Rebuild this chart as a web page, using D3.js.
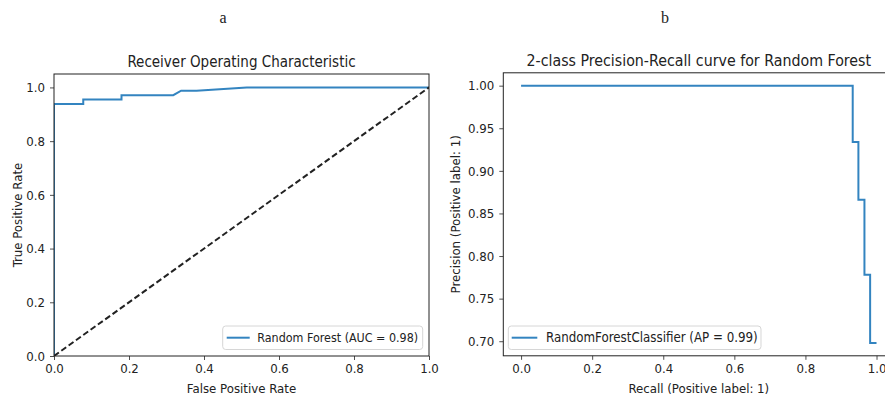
<!DOCTYPE html>
<html>
<head>
<meta charset="utf-8">
<script src="https://cdn.jsdelivr.net/npm/d3@7"></script>
<style>
  body { margin: 0; background: #fff; }
  text { font-family: "DejaVu Sans Condensed", "DejaVu Sans", sans-serif; fill: #222; }
</style>
</head>
<body>
<div id="chart"></div>
<script>
// ROC curve (panel a)
const rocFpr = [0, 0, 0.078, 0.078, 0.18, 0.18, 0.318, 0.339, 0.38, 0.514, 1.0]
const rocTpr = [0, 0.938, 0.938, 0.955, 0.955, 0.971, 0.971, 0.988, 0.988, 1.0, 1.0]
const chanceLine = [0, 1]
// Precision-recall curve (panel b), sklearn order (recall decreasing)
const prRecall = [1.0, 0.982, 0.966, 0.949, 0.933, 0.0]
const prPrecision = [0.698, 0.778, 0.866, 0.934, 1.0, 1.0]

const rocTicks = [0, 0.2, 0.4, 0.6, 0.8, 1.0]
const prYTicks = [0.70, 0.75, 0.80, 0.85, 0.90, 0.95, 1.00]
const prXTicks = [0, 0.2, 0.4, 0.6, 0.8, 1.0]

const BLUE = '#3384c0'
const WIDTH = 885
const HEIGHT = 396
const FONT = 13.1
const SANS = '"DejaVu Sans Condensed", "DejaVu Sans", sans-serif'

const svg = d3.select('#chart').append('svg')
  .attr('width', WIDTH)
  .attr('height', HEIGHT)

// panel letters
svg.append('text').attr('x', 223).attr('y', 23).attr('text-anchor', 'middle')
  .style('font-family', '"Liberation Serif", serif').attr('font-size', '16px').text('a')
svg.append('text').attr('x', 665).attr('y', 23).attr('text-anchor', 'middle')
  .style('font-family', '"Liberation Serif", serif').attr('font-size', '16px').text('b')

function panel(opts) {
  const {id, left, top, w, h, x, y, xTicks, yTicks, xFmt, yFmt} = opts
  const g = svg.append('g').attr('transform', `translate(${left},${top})`)

  g.append('clipPath').attr('id', id)
    .append('rect').attr('width', w).attr('height', h)

  const xAxisG = g.append('g')
    .attr('transform', `translate(0,${h})`)
    .call(d3.axisBottom(x).tickValues(xTicks).tickFormat(d3.format(xFmt)).tickSize(4).tickPadding(4))
  const yAxisG = g.append('g')
    .call(d3.axisLeft(y).tickValues(yTicks).tickFormat(d3.format(yFmt)).tickSize(4).tickPadding(5))

  for (const ax of [xAxisG, yAxisG]) {
    ax.select('.domain').remove()
    ax.selectAll('.tick line').attr('stroke', '#222').attr('stroke-width', 0.8)
    ax.selectAll('.tick text')
      .attr('font-size', FONT + 'px')
      .style('font-family', SANS)
      .attr('fill', '#222')
  }

  const plot = g.append('g').attr('clip-path', `url(#${id})`)
  return {g, plot}
}

// ---------- panel a : ROC ----------
const aLeft = 54, aTop = 74, aW = 375, aH = 282
const ax = d3.scaleLinear().domain([0, 1]).range([0, aW])
const ay = d3.scaleLinear().domain([0, 1.05]).range([aH, 0])
const pa = panel({id: 'clipA', left: aLeft, top: aTop, w: aW, h: aH, x: ax, y: ay,
  xTicks: rocTicks, yTicks: rocTicks, xFmt: '.1f', yFmt: '.1f'})

const rocData = rocFpr.map((f, i) => [f, rocTpr[i]])
pa.plot.append('path')
  .datum(rocData)
  .attr('fill', 'none')
  .attr('stroke', BLUE)
  .attr('stroke-width', 2)
  .attr('d', d3.line().x(d => ax(d[0])).y(d => ay(d[1])))

pa.plot.append('path')
  .datum(chanceLine.map(v => [v, v]))
  .attr('fill', 'none')
  .attr('stroke', '#222')
  .attr('stroke-width', 2)
  .attr('stroke-dasharray', '6,3')
  .attr('d', d3.line().x(d => ax(d[0])).y(d => ay(d[1])))

pa.g.append('rect').attr('width', aW).attr('height', aH)
  .attr('fill', 'none').attr('stroke', '#222').attr('stroke-width', 1)

pa.g.append('text').attr('x', aW / 2).attr('y', -7).attr('text-anchor', 'middle')
  .attr('font-size', '15px').text('Receiver Operating Characteristic')
pa.g.append('text').attr('x', aW / 2).attr('y', aH + 37).attr('text-anchor', 'middle')
  .attr('font-size', FONT + 'px').text('False Positive Rate')
pa.g.append('text')
  .attr('transform', `translate(${-32},${aH / 2}) rotate(-90)`)
  .attr('text-anchor', 'middle')
  .attr('font-size', FONT + 'px').text('True Positive Rate')

// legend a
const la = pa.g.append('g').attr('transform', `translate(${222.7 - aLeft},${326 - aTop})`)
la.append('rect').attr('width', 200).attr('height', 23.5).attr('rx', 3)
  .attr('fill', 'rgba(255,255,255,0.8)').attr('stroke', '#d6d6d6')
la.append('line').attr('x1', 4).attr('x2', 27).attr('y1', 11.7).attr('y2', 11.7)
  .attr('stroke', BLUE).attr('stroke-width', 2)
la.append('text').attr('x', 34.6).attr('y', 11.7).attr('dy', '0.35em')
  .attr('font-size', '12.4px').text('Random Forest (AUC = 0.98)')

// ---------- panel b : Precision-Recall ----------
const bLeft = 503.3, bTop = 72.8, bW = 391, bH = 283
const bx = d3.scaleLinear().domain([-0.05, 1.05]).range([0, bW])
const by = d3.scaleLinear().domain([0.6829, 1.0151]).range([bH, 0])
const pb = panel({id: 'clipB', left: bLeft, top: bTop, w: bW, h: bH, x: bx, y: by,
  xTicks: prXTicks, yTicks: prYTicks, xFmt: '.1f', yFmt: '.2f'})

const prData = prRecall.map((r, i) => [r, prPrecision[i]])
pb.plot.append('path')
  .datum(prData)
  .attr('fill', 'none')
  .attr('stroke', BLUE)
  .attr('stroke-width', 2)
  .attr('d', d3.line().curve(d3.curveStepAfter).x(d => bx(d[0])).y(d => by(d[1])))

pb.g.append('rect').attr('width', bW).attr('height', bH)
  .attr('fill', 'none').attr('stroke', '#222').attr('stroke-width', 1)

pb.g.append('text').attr('x', bW / 2).attr('y', -7).attr('text-anchor', 'middle')
  .attr('font-size', '15.8px').text('2-class Precision-Recall curve for Random Forest')
pb.g.append('text').attr('x', bW / 2).attr('y', bH + 37).attr('text-anchor', 'middle')
  .attr('font-size', FONT + 'px').text('Recall (Positive label: 1)')
pb.g.append('text')
  .attr('transform', `translate(${-43},${bH / 2}) rotate(-90)`)
  .attr('text-anchor', 'middle')
  .attr('font-size', FONT + 'px').text('Precision (Positive label: 1)')

// legend b
const lb = pb.g.append('g').attr('transform', `translate(${508.3 - bLeft},${326 - bTop})`)
lb.append('rect').attr('width', 252.7).attr('height', 23.5).attr('rx', 3)
  .attr('fill', 'rgba(255,255,255,0.8)').attr('stroke', '#d6d6d6')
lb.append('line').attr('x1', 3.4).attr('x2', 29).attr('y1', 11.7).attr('y2', 11.7)
  .attr('stroke', BLUE).attr('stroke-width', 2)
lb.append('text').attr('x', 37.7).attr('y', 11.7).attr('dy', '0.35em')
  .attr('font-size', '13.2px').text('RandomForestClassifier (AP = 0.99)')
</script>
</body>
</html>
